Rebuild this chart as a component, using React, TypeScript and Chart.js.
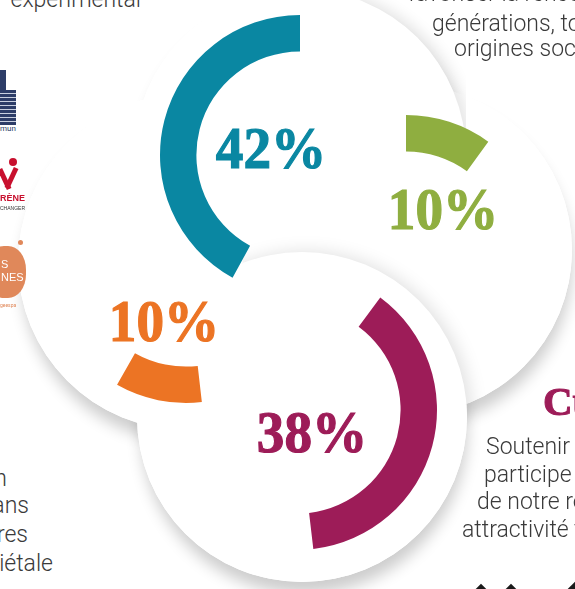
import React, { useEffect, useRef } from "react";
import { Chart, registerables } from "chart.js";

Chart.register(...registerables);

// ---- data ----
const categories = ["Axe bleu", "Axe vert", "Axe orange", "Culture"];
const values = [42, 10, 10, 38];
const colors = ["#0a87a2", "#8fae40", "#ec7424", "#9d1c58"];

// ---- layout (positions / sizes) ----
const arcCenters = [
  [300, 155],
  [406, 255],
  [186, 263],
  [297, 410],
];
const arcRotations = [-151.2, 0, 173.5, 36.5];
const labelPos = [
  [270.5, 168],
  [443, 229],
  [164, 341],
  [311.5, 452],
];
const discs = [
  [300, 155, 166],
  [407, 250, 165],
  [186, 262, 168],
  [302, 417, 165],
];

const OUTER = 140;
const INNER = 111;
const BOX = 300;

function ArcChart({ idx }: { idx: number }) {
  const ref = useRef<HTMLCanvasElement | null>(null);
  useEffect(() => {
    if (!ref.current) return;
    const v = values[idx];
    const chart = new Chart(ref.current, {
      type: "doughnut",
      data: {
        labels: [categories[idx], ""],
        datasets: [
          {
            data: [v, 100 - v],
            backgroundColor: [colors[idx], "rgba(0,0,0,0)"],
            borderWidth: 0,
            hoverOffset: 0,
          },
        ],
      },
      options: {
        responsive: false,
        maintainAspectRatio: false,
        animation: false,
        events: [],
        radius: OUTER,
        cutout: INNER,
        rotation: arcRotations[idx],
        circumference: 360,
        layout: { padding: 0 },
        plugins: { legend: { display: false }, tooltip: { enabled: false } },
      } as any,
    });
    return () => chart.destroy();
  }, [idx]);
  const [cx, cy] = arcCenters[idx];
  return (
    <canvas
      ref={ref}
      width={BOX}
      height={BOX}
      style={{ position: "absolute", left: cx - BOX / 2, top: cy - BOX / 2, width: BOX, height: BOX }}
    />
  );
}

const FS = 23;
const bodyFont: React.CSSProperties = {
  fontFamily: "Roboto, 'Noto Sans', sans-serif",
  fontWeight: 300,
  fontSize: FS,
  lineHeight: "28px",
  color: "#3a3a3a",
  whiteSpace: "nowrap",
  position: "absolute",
};
// baseline offset inside 28px line for Roboto
const BL = (28 - 1.172 * FS) / 2 + 0.928 * FS;

function LeftText({ text, left, baseline }: { text: string; left: number; baseline: number }) {
  return <div style={{ ...bodyFont, left, top: baseline - BL }}>{text}</div>;
}
function RightText({ text, right, baseline }: { text: string; right: number; baseline: number }) {
  return <div style={{ ...bodyFont, right: 575 - right, top: baseline - BL, textAlign: "right" }}>{text}</div>;
}

const PFS = 60;
const SHADOW = "2px 14px 15px -2px rgba(0,0,0,0.2)";

export default function App() {
  return (
    <div
      style={{
        position: "fixed",
        left: 0,
        top: 0,
        width: 575,
        height: 589,
        overflow: "hidden",
        background: "#ffffff",
      }}
    >
      {/* shadow layer */}
      {discs.map(([x, y, r], i) => (
        <div
          key={"s" + i}
          style={{
            position: "absolute",
            left: x - r,
            top: y - r,
            width: 2 * r,
            height: 2 * r,
            borderRadius: "50%",
            background: "#fff",
            boxShadow: SHADOW,
          }}
        />
      ))}
      {/* fill layer */}
      {discs.map(([x, y, r], i) => (
        <div
          key={"f" + i}
          style={{
            position: "absolute",
            left: x - r,
            top: y - r,
            width: 2 * r,
            height: 2 * r,
            borderRadius: "50%",
            background: "#fff",
          }}
        />
      ))}
      {/* teal disc shadow on its upper-right rim */}
      <div
        style={{
          position: "absolute",
          left: discs[0][0] - discs[0][2],
          top: discs[0][1] - discs[0][2],
          width: 2 * discs[0][2],
          height: 2 * discs[0][2],
          borderRadius: "50%",
          boxShadow: "6px -2px 14px rgba(0,0,0,0.10)",
          clipPath: "polygon(55% 0, 100% 0, 100% 45%, 88% 45%)",
        }}
      />
      {/* magenta disc shadow falling on green disc */}
      <div
        style={{
          position: "absolute",
          left: discs[1][0] - discs[1][2],
          top: discs[1][1] - discs[1][2],
          width: 2 * discs[1][2],
          height: 2 * discs[1][2],
          borderRadius: "50%",
          overflow: "hidden",
        }}
      >
        <div
          style={{
            position: "absolute",
            left: discs[3][0] - discs[3][2] - (discs[1][0] - discs[1][2]),
            top: discs[3][1] - discs[3][2] - (discs[1][1] - discs[1][2]),
            width: 2 * discs[3][2],
            height: 2 * discs[3][2],
            borderRadius: "50%",
            background: "#fff",
            boxShadow: "4px 0px 18px rgba(0,0,0,0.13)",
          }}
        />
      </div>

      {/* arcs */}
      {values.map((_, i) => (
        <ArcChart key={"a" + i} idx={i} />
      ))}

      {/* percentages */}
      {values.map((v, i) => (
        <div
          key={"p" + i}
          style={{
            position: "absolute",
            left: labelPos[i][0],
            top: labelPos[i][1] - 0.8375 * PFS,
            fontFamily: "'Liberation Serif', 'DejaVu Serif', serif",
            fontWeight: 700,
            fontSize: PFS,
            lineHeight: PFS + "px",
            color: colors[i],
            WebkitTextStroke: `1.2px ${colors[i]}`,
            whiteSpace: "nowrap",
            transform: "translateX(-50%) scaleX(0.92)",
            transformOrigin: "50% 0",
          }}
        >
          {`${v}%`}
        </div>
      ))}

      {/* surrounding texts */}
      <RightText text="expérimental" right={141} baseline={8} />
      <LeftText text="favoriser la rencontre des publics, p" left={408} baseline={2} />
      <LeftText text="générations, toutes les" left={432} baseline={32} />
      <LeftText text="origines sociales" left={454} baseline={57} />

      <RightText text="une création" right={7} baseline={487} />
      <RightText text="dans" right={29} baseline={514} />
      <RightText text="autres" right={28} baseline={543} />
      <RightText text="sociétale" right={53} baseline={572} />

      <div
        style={{
          position: "absolute",
          left: 543,
          top: 415 - 0.8375 * 41,
          fontFamily: "'Liberation Serif', 'DejaVu Serif', serif",
          fontWeight: 700,
          fontSize: 41,
          lineHeight: "41px",
          color: "#9d1c58",
          WebkitTextStroke: "1px #9d1c58",
          whiteSpace: "nowrap",
        }}
      >
        Culture
      </div>
      <LeftText text="Soutenir la culture" left={486} baseline={455} />
      <LeftText text="participe au dynamisme" left={484} baseline={483} />
      <LeftText text="de notre région et à son" left={477} baseline={510} />
      <LeftText text="attractivité territoriale" left={462} baseline={538} />

      {/* bottom-right icons (partial) */}
      {[481, 511, 576].map((x, i) => (
        <div
          key={"d" + i}
          style={{
            position: "absolute",
            left: x - 8,
            top: (i === 2 ? 581 : 584) + 3.3,
            width: 16,
            height: 16,
            background: "#1a1a1a",
            transform: "rotate(45deg)",
          }}
        />
      ))}

      {/* left logos (partial) */}
      <div style={{ position: "absolute", left: 0, top: 70, width: 6, height: 22, background: "#2d3d68" }} />
      <div
        style={{
          position: "absolute",
          left: 0,
          top: 90,
          width: 16,
          height: 35,
          background: "repeating-linear-gradient(0deg, #2d3d68 0 3px, #c9d0e0 3px 4px), #2d3d68",
        }}
      />
      <div
        style={{
          position: "absolute",
          left: 0,
          top: 124,
          fontFamily: "Roboto, sans-serif",
          fontSize: 8,
          lineHeight: "10px",
          color: "#2d3d68",
        }}
      >
        mun
      </div>
      <div style={{ position: "absolute", left: 9, top: 158, width: 8, height: 8, borderRadius: "50%", background: "#c8102e" }} />
      <div style={{ position: "absolute", left: 2, top: 168, width: 5, height: 22, background: "#c8102e", transform: "rotate(-25deg)" }} />
      <div style={{ position: "absolute", left: 9, top: 167, width: 5, height: 22, background: "#c8102e", transform: "rotate(25deg)" }} />
      <div
        style={{
          position: "absolute",
          left: 0,
          top: 193,
          fontFamily: "'Liberation Sans', sans-serif",
          fontWeight: 700,
          fontSize: 9,
          lineHeight: "11px",
          color: "#c8102e",
        }}
      >
        RÈNE
      </div>
      <div
        style={{
          position: "absolute",
          left: 0,
          top: 205,
          fontFamily: "'Liberation Sans', sans-serif",
          fontSize: 5,
          lineHeight: "6px",
          color: "#333",
        }}
      >
        CHANGER
      </div>
      <div style={{ position: "absolute", left: -14, top: 246, width: 40, height: 52, borderRadius: "45%", background: "#e0885a" }} />
      <div style={{ position: "absolute", left: 18, top: 240, width: 5, height: 5, borderRadius: "50%", background: "#e0885a" }} />
      <div
        style={{
          position: "absolute",
          left: 1,
          top: 258,
          fontFamily: "'Liberation Sans Narrow', 'Liberation Sans', sans-serif",
          fontSize: 11,
          lineHeight: "13px",
          color: "#fff",
        }}
      >
        S
        <br />
        NES
      </div>
      <div
        style={{
          position: "absolute",
          left: 0,
          top: 302,
          fontFamily: "Roboto, sans-serif",
          fontSize: 5,
          lineHeight: "6px",
          color: "#e0885a",
        }}
      >
        geespa
      </div>
    </div>
  );
}
